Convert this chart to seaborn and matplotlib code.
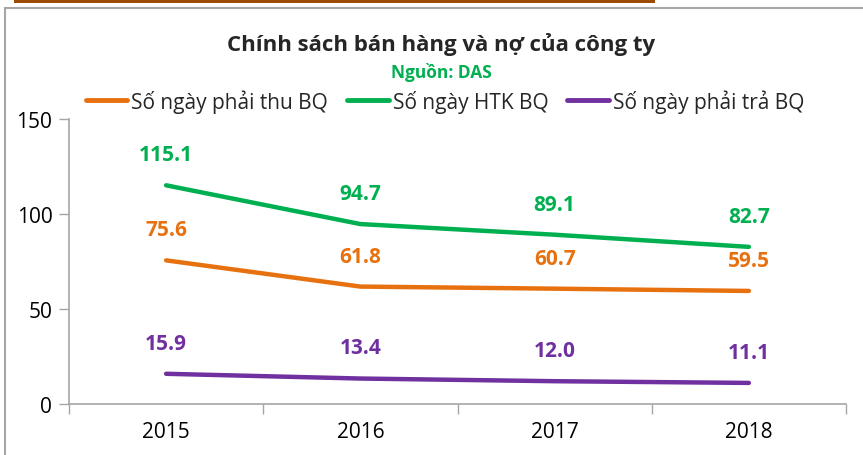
import matplotlib
matplotlib.use("Agg")
import matplotlib.pyplot as plt
import seaborn as sns
import pandas as pd
from matplotlib.patches import Rectangle

years = ["2015", "2016", "2017", "2018"]
series_names = ["Số ngày phải thu BQ", "Số ngày HTK BQ", "Số ngày phải trả BQ"]
phai_thu = [75.6, 61.8, 60.7, 59.5]
htk = [115.1, 94.7, 89.1, 82.7]
phai_tra = [15.9, 13.4, 12.0, 11.1]
colors = ["#E8710F", "#00B050", "#7030A0"]
title = "Chính sách bán hàng và nợ của công ty"
subtitle = "Nguồn: DAS"
yticks = [0, 50, 100, 150]

sns.set_theme(style="white")
plt.rcParams["font.family"] = ["Open Sans", "DejaVu Sans"]

rows = []
for name, vals in zip(series_names, [phai_thu, htk, phai_tra]):
    for i, (y, v) in enumerate(zip(years, vals)):
        rows.append({"idx": i, "year": y, "value": v, "series": name})
df = pd.DataFrame(rows)

fig = plt.figure(figsize=(8.63, 4.56), dpi=100)
ax = fig.add_axes([69 / 863, 51 / 456, (846 - 69) / 863, (405 - 120) / 456])

sns.lineplot(data=df, x="idx", y="value", hue="series", hue_order=series_names,
             palette=colors, linewidth=3.2, ax=ax, legend=True)
for line in ax.get_lines():
    line.set_solid_capstyle("round")

for name, c in zip(series_names, colors):
    sub = df[df["series"] == name]
    for _, r in sub.iterrows():
        ax.annotate(f"{r['value']:.1f}", (r["idx"], r["value"]), xytext=(0, 22),
                    textcoords="offset points", ha="center", va="center",
                    color=c, fontsize=15, fontweight="bold")

ax.set_xlim(-0.5, 3.5)
ax.set_ylim(0, 150)
ax.set_yticks(yticks)
ax.set_xticks(range(len(years)))
ax.set_xticklabels(years)
ax.set_xticks([-0.5, 0.5, 1.5, 2.5, 3.5], minor=True)
ax.tick_params(axis="x", which="major", length=0, pad=12, labelsize=15, colors="black")
ax.tick_params(axis="x", which="minor", length=7, width=1, color="#A6A6A6", direction="out", bottom=True)
ax.tick_params(axis="y", which="major", length=7, width=1, color="#A6A6A6", direction="out",
               left=True, labelsize=15, pad=5)
for lab in ax.get_yticklabels() + ax.get_xticklabels():
    lab.set_color("black")
ax.set_xlabel("")
ax.set_ylabel("")
for s in ["top", "right"]:
    ax.spines[s].set_visible(False)
for s in ["left", "bottom"]:
    ax.spines[s].set_color("#A6A6A6")
    ax.spines[s].set_linewidth(1.2)

handles, labels = ax.get_legend_handles_labels()
ax.legend_.remove()
leg = fig.legend(handles, labels, loc="center", bbox_to_anchor=(445 / 863, 1 - 102 / 456),
                 ncol=3, frameon=False, fontsize=15, handlelength=2.0, columnspacing=0.9,
                 handletextpad=0.2)
for h in leg.get_lines():
    h.set_linewidth(3.5)

fig.text(441 / 863, 1 - 44 / 456, title, ha="center", va="center", fontsize=16, fontweight="bold")
fig.text(441 / 863, 1 - 72 / 456, subtitle, ha="center", va="center", fontsize=12.5,
         fontweight="bold", color="#00B050")

# decorative frame and top bar
fig.patches.append(Rectangle((5 / 863, -0.05), 2, 1 - 9 / 456 + 0.05,
                             transform=fig.transFigure, fill=False, edgecolor="#A6A6A6",
                             linewidth=1.5))
fig.patches.append(Rectangle((14 / 863, 1 - 4 / 456), (655 - 14) / 863, 4 / 456 + 0.01,
                             transform=fig.transFigure, facecolor="#9C4A06", edgecolor="none"))

fig.savefig("out.png", dpi=100)
